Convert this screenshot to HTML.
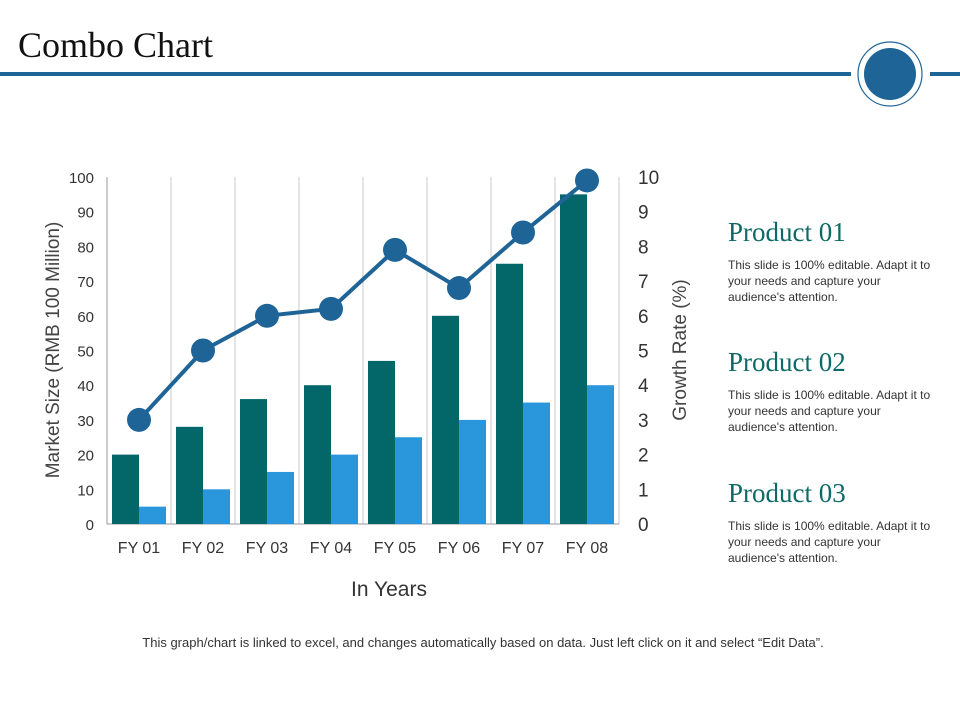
<!DOCTYPE html>
<html><head><meta charset="utf-8"><style>
body{margin:0;width:960px;height:720px;background:#fff;position:relative;overflow:hidden;font-family:"Liberation Sans",sans-serif}
.t{position:absolute;margin:0}
.ph{font-family:"Liberation Serif",serif;color:#0e6a66;font-size:27px;left:728px}
.pd{font-size:12px;color:#333;left:728px;width:210px;line-height:16px}
</style></head><body>
<h1 class="t" style="left:18px;top:24px;font-family:'Liberation Serif',serif;font-weight:normal;font-size:36px;color:#111">Combo Chart</h1>
<svg width="960" height="720" style="position:absolute;left:0;top:0">
<rect x="0" y="72" width="851" height="4" fill="#1f6496"/>
<rect x="930" y="72" width="30" height="4" fill="#1f6496"/>
<circle cx="890" cy="74" r="32" fill="#fff" stroke="#1f6496" stroke-width="1.2"/>
<circle cx="890" cy="74" r="26" fill="#1f6496"/>
<g id="plot"></g>
<text transform="translate(59,350) rotate(-90)" text-anchor="middle" font-size="19" fill="#444">Market Size (RMB 100 Million)</text>
<text transform="translate(686,350) rotate(-90)" text-anchor="middle" font-size="19" fill="#444">Growth Rate (%)</text>
<text x="389" y="596" text-anchor="middle" font-size="21" fill="#333">In Years</text>
<text x="483" y="647" text-anchor="middle" font-size="13" fill="#333">This graph/chart is linked to excel, and changes automatically based on data. Just left click on it and select “Edit Data”.</text>
</svg>
<div class="t ph" style="top:217px">Product 01</div>
<div class="t pd" style="top:257px">This slide is 100% editable. Adapt it to your needs and capture your audience's attention.</div>
<div class="t ph" style="top:347px">Product 02</div>
<div class="t pd" style="top:387px">This slide is 100% editable. Adapt it to your needs and capture your audience's attention.</div>
<div class="t ph" style="top:478px">Product 03</div>
<div class="t pd" style="top:518px">This slide is 100% editable. Adapt it to your needs and capture your audience's attention.</div>
<script>
const categories=["FY 01","FY 02","FY 03","FY 04","FY 05","FY 06","FY 07","FY 08"];
const marketA=[20,28,36,40,47,60,75,95];
const marketB=[5,10,15,20,25,30,35,40];
const growth=[3,5,6,6.2,7.9,6.8,8.4,9.9];
const leftTicks=[0,10,20,30,40,50,60,70,80,90,100];
const rightTicks=[0,1,2,3,4,5,6,7,8,9,10];
const NS="http://www.w3.org/2000/svg";
const g=document.getElementById('plot');
const x0=107,cw=64,yb=524,yt=177;
const yL=v=>yb-(v/100)*(yb-yt);
const yR=v=>yb-(v/10)*(yb-yt);
const xc=i=>x0+cw*i;
function mk(t,a){const e=document.createElementNS(NS,t);for(const k in a)e.setAttribute(k,a[k]);g.appendChild(e);return e;}
for(let i=1;i<=categories.length;i++){const e=mk('line',{x1:xc(i),x2:xc(i),y1:yt,y2:yb,stroke:'#c8c8c8','stroke-width':1});

}
let ax=mk('line',{x1:x0,x2:x0,y1:yt,y2:yb,stroke:'#999'});


ax=mk('line',{x1:x0,x2:xc(categories.length),y1:yb,y2:yb,stroke:'#999'});


leftTicks.forEach(v=>{const e=mk('text',{x:94,y:yL(v)+6,'text-anchor':'end','font-size':15,fill:'#333'});e.textContent=v;

});
rightTicks.forEach(v=>{const e=mk('text',{x:638,y:yR(v)+7,'font-size':19,fill:'#333'});e.textContent=v;

});
categories.forEach((c,i)=>{
const a=mk('rect',{x:xc(i)+5,y:yL(marketA[i]),width:27,height:yb-yL(marketA[i]),fill:'#03676a'});


const b=mk('rect',{x:xc(i)+32,y:yL(marketB[i]),width:27,height:yb-yL(marketB[i]),fill:'#2a96dc'});


const t=mk('text',{x:xc(i)+cw/2,y:553,'text-anchor':'middle','font-size':16,fill:'#333'});t.textContent=c;


});
const pl=mk('polyline',{points:growth.map((v,i)=>(xc(i)+cw/2)+','+yR(v)).join(' '),fill:'none',stroke:'#1f6496','stroke-width':4});


growth.forEach((v,i)=>{const c=mk('circle',{cx:xc(i)+cw/2,cy:yR(v),r:12,fill:'#1f6496'});

});
</script>
</body></html>
